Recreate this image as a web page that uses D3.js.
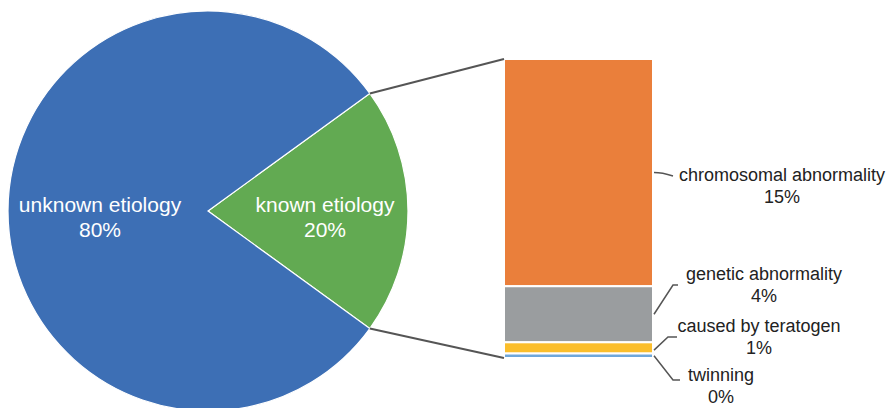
<!DOCTYPE html>
<html><head><meta charset="utf-8">
<script src="https://cdn.jsdelivr.net/npm/d3@7"></script>
<style>body{margin:0;background:#fff}svg{display:block}</style>
</head><body><svg id="c" width="896" height="408"></svg>
<script>
// ---- data ----
const pieLabels = ["known etiology", "unknown etiology"];
const pieValues = [20, 80];
const barLabels = ["chromosomal abnormality", "genetic abnormality", "caused by teratogen", "twinning"];
const barValues = [15.2, 3.75, 0.75, 0.3];
const barPctText = ["15%", "4%", "1%", "0%"];
const piePctText = ["20%", "80%"];

// ---- style/layout ----
const pieColors = ["#62AA52", "#3D6FB5"];
const barColors = ["#EA7F3B", "#9A9D9F", "#FBBE2B", "#6FA7DA"];
const font = "'Liberation Sans', Arial, Helvetica, sans-serif";
const svg = d3.select("#c");
const cx = 208, cy = 211, R = 200;
const deg = Math.PI / 180;

const pie = d3.pie().sort(null).startAngle(54 * deg).endAngle(414 * deg);
const arcs = pie(pieValues);
const arc = d3.arc().innerRadius(0).outerRadius(R);
const g = svg.append("g").attr("transform", `translate(${cx},${cy})`);
g.selectAll("path").data(arcs).join("path")
  .attr("d", arc).attr("fill", (d, i) => pieColors[i])
  .attr("stroke", "#fff").attr("stroke-width", 1.2);

// pie labels
const pieLabelPos = [[117, 0], [-108, 0]];
arcs.forEach((a, i) => {
  const t = g.append("text").attr("text-anchor", "middle")
    .attr("font-family", font).attr("font-size", 21).attr("fill", "#fff")
    .attr("transform", `translate(${pieLabelPos[i][0]},${pieLabelPos[i][1]})`);
  t.append("tspan").attr("x", 0).attr("y", 1).text(pieLabels[i]);
  t.append("tspan").attr("x", 0).attr("y", 26).text(piePctText[i]);
});

// bar
const barX = 504, barW = 149, barTop = 59, barBot = 358;
const total = d3.sum(barValues);
const y = d3.scaleLinear().domain([0, total]).range([barTop, barBot]);
const cum = [];
let acc = 0;
barValues.forEach(v => { cum.push([acc, acc + v]); acc += v; });
svg.selectAll("rect.seg").data(cum).join("rect").attr("class", "seg")
  .attr("x", barX).attr("width", barW)
  .attr("y", d => y(d[0])).attr("height", d => y(d[1]) - y(d[0]))
  .attr("fill", (d, i) => barColors[i])
  .attr("stroke", "#fff").attr("stroke-width", 2);

// connector lines pie -> bar
const a0 = arcs[0].startAngle, a1 = arcs[0].endAngle;
const p0 = [cx + R * Math.sin(a0), cy - R * Math.cos(a0)];
const p1 = [cx + R * Math.sin(a1), cy - R * Math.cos(a1)];
svg.append("line").attr("x1", p0[0]).attr("y1", p0[1]).attr("x2", barX).attr("y2", y(0))
  .attr("stroke", "#555").attr("stroke-width", 2);
svg.append("line").attr("x1", p1[0]).attr("y1", p1[1]).attr("x2", barX).attr("y2", y(total))
  .attr("stroke", "#555").attr("stroke-width", 2);

// bar labels with leaders
const labelCX = [782, 764, 759, 721];
const labelY = [181, 280, 332, 381];
const leaderEnd = [[673, 176], [673, 285], [668, 337], [673, 380]];
const leaderTail = [null, [678, 285], [677, 337], [680, 380]];
cum.forEach((d, i) => {
  const sy = i === 2 ? y(d[0]) + (y(d[1]) - y(d[0])) * 0.7 : (y(d[0]) + y(d[1])) / 2;
  const sx = barX + barW + 1;
  let path = `M${sx},${sy}`;
  if (i === 0) path += ` Q${sx + 8},${sy} ${leaderEnd[i][0]},${leaderEnd[i][1]}`;
  else path += ` L${leaderEnd[i][0]},${leaderEnd[i][1]} L${leaderTail[i][0]},${leaderTail[i][1]}`;
  svg.append("path").attr("d", path).attr("fill", "none")
    .attr("stroke", "#555").attr("stroke-width", 1.5);
  const t = svg.append("text").attr("text-anchor", "middle")
    .attr("font-family", font).attr("font-size", 18).attr("fill", "#222");
  t.append("tspan").attr("x", labelCX[i]).attr("y", labelY[i]).text(barLabels[i]);
  t.append("tspan").attr("x", labelCX[i]).attr("y", labelY[i] + 22).text(barPctText[i]);
});
</script></body></html>
